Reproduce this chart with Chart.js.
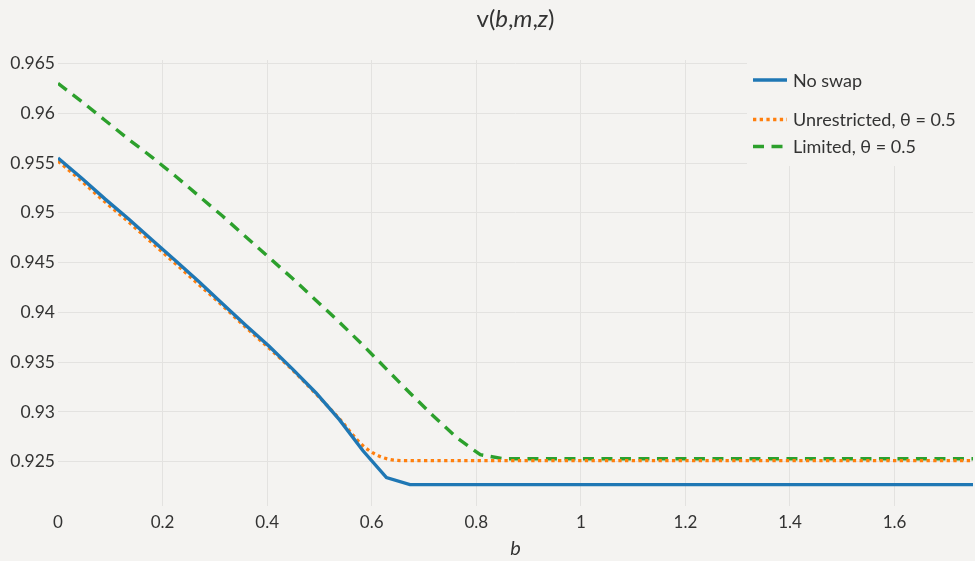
<!DOCTYPE html>
<html>
<head>
<meta charset="utf-8">
<script src="https://cdn.jsdelivr.net/npm/chart.js@4.4.0/dist/chart.umd.min.js"></script>
<style>
  html, body { margin: 0; padding: 0; background: #f4f3f1; }
  #wrap { width: 975px; height: 561px; }
</style>
</head>
<body>
<div id="wrap"><canvas id="chart" width="975" height="561"></canvas></div>
<script>
'use strict';

// b grid
const xs = [0, 0.0449, 0.0897, 0.1346, 0.1795, 0.2244, 0.2692, 0.3141, 0.3590, 0.4038,
  0.4487, 0.4936, 0.5385, 0.5833, 0.6282, 0.6731, 0.7179, 0.7628, 0.8077, 0.8526,
  0.8974, 0.9423, 0.9872, 1.0321, 1.0769, 1.1218, 1.1667, 1.2115, 1.2564, 1.3013,
  1.3462, 1.3910, 1.4359, 1.4808, 1.5256, 1.5705, 1.6154, 1.6603, 1.7051, 1.75];

const noSwap = [0.9555, 0.9535, 0.9514, 0.9494, 0.9473, 0.9452, 0.9431, 0.9409, 0.9387, 0.9366,
  0.9343, 0.9319, 0.9292, 0.9261, 0.9234, 0.9227, 0.9227, 0.9227, 0.9227, 0.9227,
  0.9227, 0.9227, 0.9227, 0.9227, 0.9227, 0.9227, 0.9227, 0.9227, 0.9227, 0.9227,
  0.9227, 0.9227, 0.9227, 0.9227, 0.9227, 0.9227, 0.9227, 0.9227, 0.9227, 0.9227];

const unrestricted = [0.9552, 0.9532, 0.9511, 0.9491, 0.9470, 0.9449, 0.9428, 0.9407, 0.9385, 0.9364,
  0.9342, 0.9318, 0.9293, 0.9266, 0.9253, 0.9251, 0.9251, 0.9251, 0.9251, 0.9251,
  0.9251, 0.9251, 0.9251, 0.9251, 0.9251, 0.9251, 0.9251, 0.9251, 0.9251, 0.9251,
  0.9251, 0.9251, 0.9251, 0.9251, 0.9251, 0.9251, 0.9251, 0.9251, 0.9251, 0.9251];

const limited = [0.9630, 0.9612, 0.9593, 0.9574, 0.9556, 0.9537, 0.9517, 0.9497, 0.9476, 0.9455,
  0.9434, 0.9412, 0.9390, 0.9367, 0.9343, 0.9319, 0.9296, 0.9274, 0.9257, 0.9253,
  0.9253, 0.9253, 0.9253, 0.9253, 0.9253, 0.9253, 0.9253, 0.9253, 0.9253, 0.9253,
  0.9253, 0.9253, 0.9253, 0.9253, 0.9253, 0.9253, 0.9253, 0.9253, 0.9253, 0.9253];

const seriesNames = ['No swap', 'Unrestricted, θ = 0.5', 'Limited, θ = 0.5'];
const titleParts = [['v(', false], ['b', true], [',', false], ['m', true], [',', false], ['z', true], [')', false]];
const xTitle = 'b';

const FONT = 'Lato, "Open Sans", sans-serif';
const TXT = '#333333';
const GRID = '#e3e2e0';
const BG = '#f4f3f1';

const pts = ys => xs.map((x, i) => ({ x, y: ys[i] }));

// mixed roman / italic title
const titlePlugin = {
  id: 'mixedTitle',
  afterDraw(chart) {
    const ctx = chart.ctx, a = chart.chartArea;
    ctx.save();
    ctx.fillStyle = TXT;
    ctx.textBaseline = 'middle';
    const fontOf = it => (it ? 'italic ' : '') + '24px ' + FONT;
    const widths = titleParts.map(([t, it]) => { ctx.font = fontOf(it); return ctx.measureText(t).width; });
    const total = widths.reduce((s, w) => s + w, 0);
    let x = (a.left + a.right) / 2 - total / 2;
    titleParts.forEach(([t, it], i) => {
      ctx.font = fontOf(it);
      ctx.fillText(t, x, 19);
      x += widths[i];
    });
    ctx.restore();
  }
};

// boxed legend in the top-right corner
const legendPlugin = {
  id: 'boxLegend',
  afterDraw(chart) {
    const ctx = chart.ctx;
    const rowsY = [80, 119.5, 146.5];
    ctx.save();
    ctx.fillStyle = BG;
    ctx.fillRect(747, 58, 228, 108);
    chart.data.datasets.forEach((ds, i) => {
      const y = rowsY[i];
      ctx.beginPath();
      ctx.strokeStyle = ds.borderColor;
      ctx.lineWidth = ds.borderWidth;
      ctx.setLineDash(ds.borderDash || []);
      ctx.lineCap = 'butt';
      ctx.moveTo(753, y);
      ctx.lineTo(787, y);
      ctx.stroke();
      ctx.setLineDash([]);
      ctx.fillStyle = TXT;
      ctx.font = '18px ' + FONT;
      ctx.textBaseline = 'middle';
      ctx.fillText(ds.label, 793, y + 1);
    });
    ctx.restore();
  }
};

new Chart(document.getElementById('chart'), {
  type: 'line',
  data: {
    datasets: [
      { label: seriesNames[0], data: pts(noSwap), borderColor: '#1f77b4', borderWidth: 3.4, pointRadius: 0, tension: 0 },
      { label: seriesNames[1], data: pts(unrestricted), borderColor: '#ff7f0e', borderWidth: 3.3, borderDash: [3.3, 3.4], pointRadius: 0, cubicInterpolationMode: 'monotone' },
      { label: seriesNames[2], data: pts(limited), borderColor: '#2ca02c', borderWidth: 3.4, borderDash: [11, 7.5], pointRadius: 0, tension: 0 },
    ]
  },
  options: {
    responsive: false,
    animation: false,
    layout: { padding: { top: 60, right: 2, left: 0, bottom: 0 } },
    plugins: { legend: { display: false }, title: { display: false }, tooltip: { enabled: false } },
    scales: {
      x: {
        type: 'linear', min: 0, max: 1.75,
        border: { display: false },
        grid: { color: c => (c.tick && c.tick.value === 0 ? 'rgba(0,0,0,0)' : GRID), drawTicks: false },
        ticks: { stepSize: 0.2, includeBounds: false, padding: 6, color: TXT, font: { family: FONT, size: 17 },
          maxRotation: 0, callback: v => String(+v.toFixed(1)) },
        title: { display: true, text: xTitle, color: TXT, font: { family: FONT, size: 20, style: 'italic' }, padding: { top: 0, bottom: 0 } },
        afterFit: s => { s.height = 55; }
      },
      y: {
        min: 0.92055, max: 0.96535,
        border: { display: false },
        grid: { color: GRID, drawTicks: false },
        ticks: { stepSize: 0.005, includeBounds: false, padding: 3, color: TXT, font: { family: FONT, size: 17.5 },
          callback: v => String(+v.toFixed(3)) },
        afterFit: s => { s.width = 58; }
      }
    }
  },
  plugins: [titlePlugin, legendPlugin]
});
</script>
</body>
</html>
